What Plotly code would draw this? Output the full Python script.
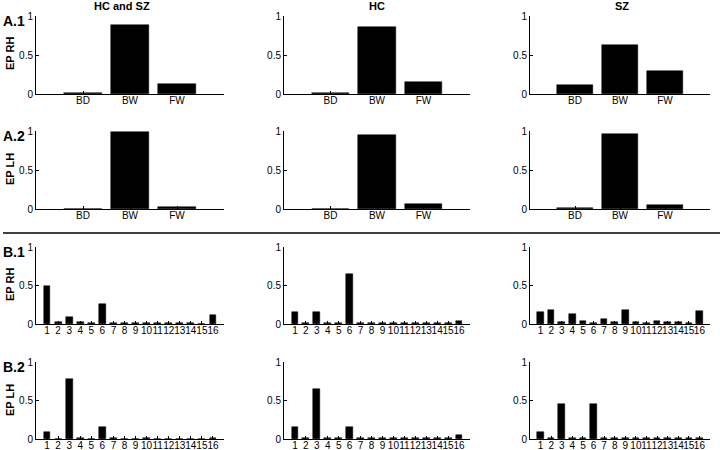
import plotly.graph_objects as go

# ---- data ----
groups = ["HC and SZ", "HC", "SZ"]
conn_cats = ["BD", "BW", "FW"]
node_cats = [str(i) for i in range(1, 17)]

# A.1  EP RH  (BD, BW, FW)
a1_all = [0.01, 0.885, 0.13]
a1_hc = [0.01, 0.86, 0.15]
a1_sz = [0.115, 0.63, 0.29]

# A.2  EP LH
a2_all = [0.0, 0.99, 0.025]
a2_hc = [0.0, 0.95, 0.06]
a2_sz = [0.01, 0.96, 0.05]

# B.1  EP RH  (nodes 1..16)
b1_all = [0.49, 0.02, 0.09, 0.02, 0.01, 0.26, 0.01, 0.01, 0.01, 0.01, 0.01, 0.01, 0.01, 0.01, 0.0, 0.12]
b1_hc = [0.16, 0.01, 0.16, 0.01, 0.01, 0.65, 0.01, 0.01, 0.01, 0.01, 0.01, 0.01, 0.01, 0.01, 0.01, 0.04]
b1_sz = [0.15, 0.18, 0.02, 0.13, 0.04, 0.01, 0.07, 0.02, 0.18, 0.02, 0.01, 0.035, 0.025, 0.02, 0.01, 0.165]

# B.2  EP LH
b2_all = [0.09, 0.0, 0.78, 0.01, 0.0, 0.15, 0.01, 0.0, 0.0, 0.01, 0.0, 0.0, 0.0, 0.0, 0.0, 0.01]
b2_hc = [0.15, 0.01, 0.65, 0.01, 0.01, 0.15, 0.01, 0.01, 0.01, 0.01, 0.01, 0.01, 0.01, 0.01, 0.01, 0.05]
b2_sz = [0.09, 0.01, 0.45, 0.01, 0.01, 0.45, 0.01, 0.01, 0.01, 0.01, 0.01, 0.01, 0.01, 0.01, 0.01, 0.01]

rows = [
    ("A.1", "EP RH", conn_cats, [a1_all, a1_hc, a1_sz]),
    ("A.2", "EP LH", conn_cats, [a2_all, a2_hc, a2_sz]),
    ("B.1", "EP RH", node_cats, [b1_all, b1_hc, b1_sz]),
    ("B.2", "EP LH", node_cats, [b2_all, b2_hc, b2_sz]),
]

W, H = 720, 450
# pixel boxes for columns (x0, x1) and rows (top, bottom)
col_px = [(36, 224), (284, 470), (530, 710)]
row_px = [(16, 94), (131, 209), (247, 324), (362, 439)]

fig = go.Figure()
font = "Liberation Sans, Arial, sans-serif"
narrow = "Liberation Sans Narrow, Arial Narrow, Liberation Sans, sans-serif"

n = 0
for r, (tag, ylab, cats, series) in enumerate(rows):
    top, bot = row_px[r]
    for c in range(3):
        n += 1
        xa = "x" if n == 1 else "x%d" % n
        ya = "y" if n == 1 else "y%d" % n
        xs = list(range(1, len(cats) + 1))
        fig.add_trace(go.Bar(
            x=xs, y=series[c], xaxis=xa, yaxis=ya,
            width=0.8 if len(cats) == 3 else 0.62,
            marker=dict(color="black", line=dict(color="black", width=0.5)),
            showlegend=False,
        ))
        x0, x1 = col_px[c]
        fig.layout["xaxis" if n == 1 else "xaxis%d" % n] = dict(
            domain=[x0 / W, x1 / W], anchor=ya, automargin=False,
            range=[0, len(cats) + 1],
            tickvals=xs, ticktext=cats, tickangle=0,
            ticks="inside", ticklen=3, tickcolor="black",
            ticklabelstandoff=-3,
            showline=True, linecolor="black", linewidth=1,
            showgrid=False, zeroline=False,
            tickfont=dict(size=10, color="black", family=narrow),
        )
        fig.layout["yaxis" if n == 1 else "yaxis%d" % n] = dict(
            domain=[1 - bot / H, 1 - top / H], anchor=xa, automargin=False,
            range=[0, 1],
            tickvals=[0, 0.5, 1], ticktext=["0", "0.5", "1"],
            ticks="inside", ticklen=3, tickcolor="black",
            showline=True, linecolor="black", linewidth=1,
            showgrid=False, zeroline=False,
            tickfont=dict(size=10, color="black", family=narrow),
        )
    # row labels
    fig.add_annotation(x=1 / W, y=1 - (top + 5) / H, xref="paper", yref="paper",
                       text="<b>%s</b>" % tag, showarrow=False,
                       xanchor="left", yanchor="middle",
                       font=dict(size=14, color="black", family=font))
    fig.add_annotation(x=10 / W, y=1 - (top + 38) / H, xref="paper", yref="paper",
                       text="<b>%s</b>" % ylab, showarrow=False, textangle=-90,
                       xanchor="center", yanchor="middle",
                       font=dict(size=11, color="black", family=font))

# column titles
for g, cx in zip(groups, [122, 377, 622]):
    fig.add_annotation(x=cx / W, y=1 - 6 / H, xref="paper", yref="paper",
                       text="<b>%s</b>" % g, showarrow=False,
                       xanchor="center", yanchor="middle",
                       font=dict(size=11, color="black", family=font))

# separator between A and B
fig.add_shape(type="line", xref="paper", yref="paper",
              x0=3 / W, x1=1, y0=1 - 233 / H, y1=1 - 233 / H,
              line=dict(color="black", width=1.5))

fig.update_layout(
    width=W, height=H,
    margin=dict(l=0, r=0, t=0, b=0),
    paper_bgcolor="white", plot_bgcolor="white",
    bargap=0,
)

# the page body has a default 8px margin; drop it so the figure fills the window
fig.write_html("out.html", config={"displayModeBar": False},
               post_script="document.body.style.margin='0';")
